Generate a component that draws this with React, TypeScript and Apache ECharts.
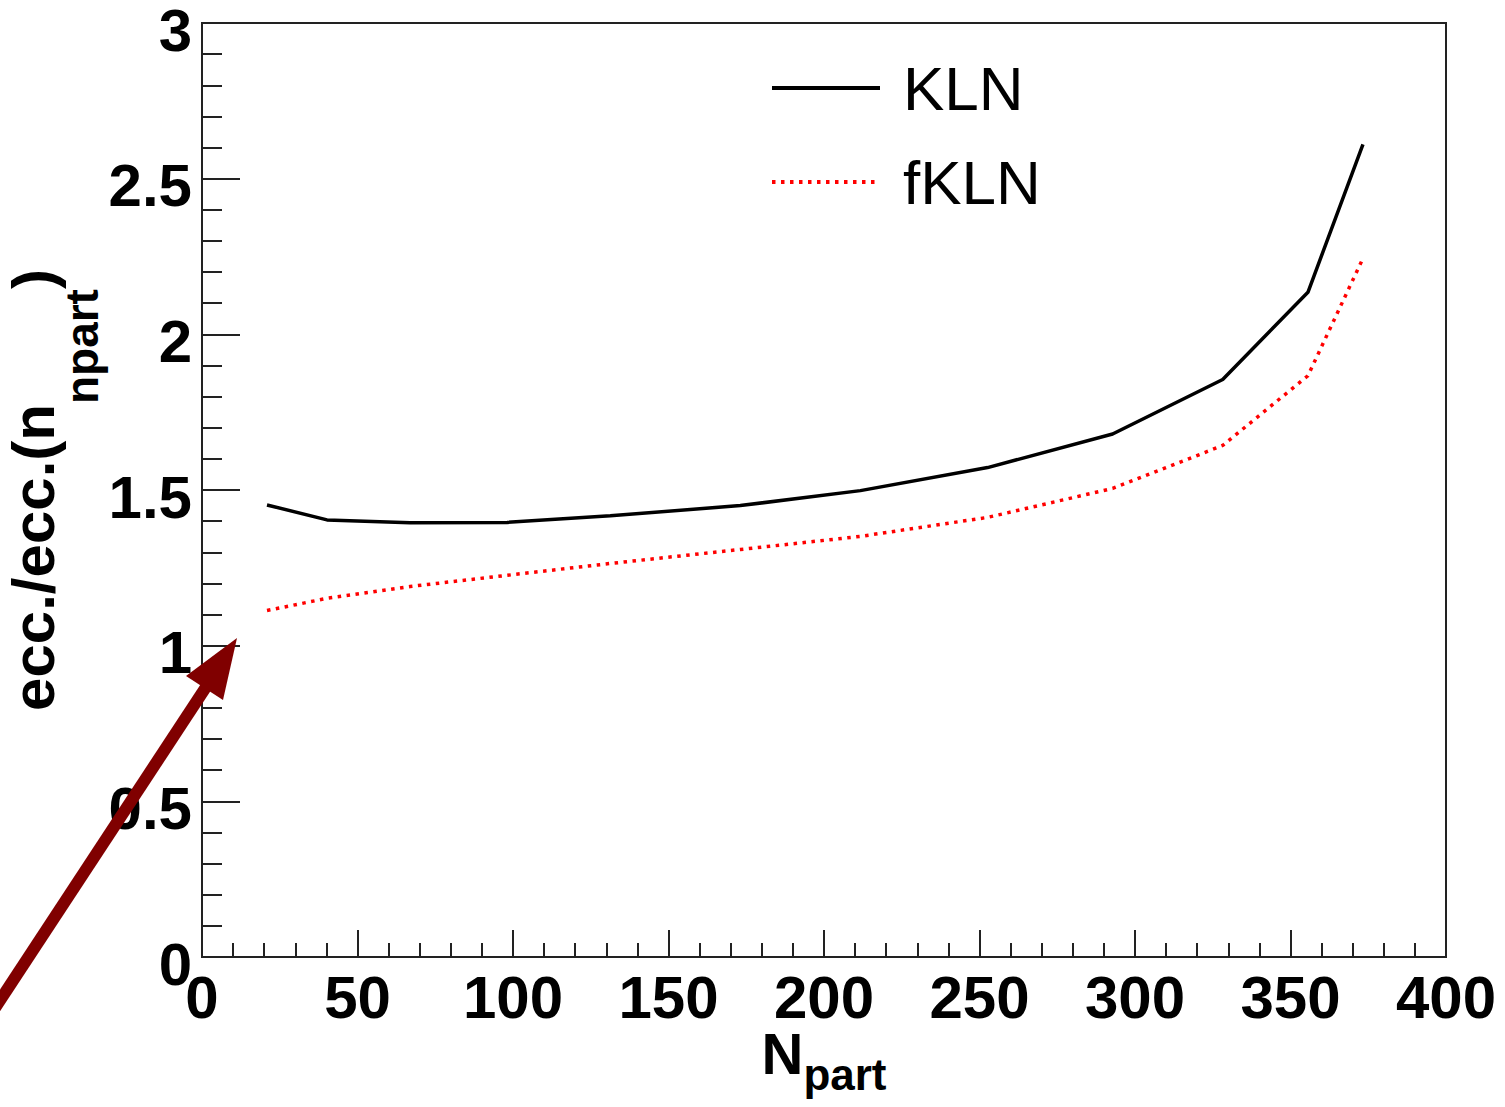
import React, { useEffect, useRef } from "react";
import * as echarts from "echarts";

const npart = [20.9, 40.2, 66.9, 98.1, 131.3, 173.1, 211.7, 252.6, 292.8, 328.2, 355.6, 373.3];
const klnValues = [1.452, 1.404, 1.395, 1.396, 1.417, 1.45, 1.498, 1.572, 1.68, 1.855, 2.135, 2.61];
const fklnValues = [1.113, 1.152, 1.19, 1.226, 1.264, 1.309, 1.351, 1.412, 1.505, 1.643, 1.867, 2.244];
const seriesNames = ["KLN", "fKLN"];

const FONT = "'Liberation Sans', Arial, Helvetica, sans-serif";

export default function App() {
  const ref = useRef<HTMLDivElement>(null);
  useEffect(() => {
    if (!ref.current) return;
    const chart = echarts.init(ref.current, null, { renderer: "svg" });
    const kln = npart.map((x, i) => [x, klnValues[i]]);
    const fkln = npart.map((x, i) => [x, fklnValues[i]]);
    chart.setOption({
      animation: false,
      backgroundColor: "#ffffff",
      grid: {
        left: 202,
        right: 59,
        top: 23,
        bottom: 150,
        show: true,
        borderColor: "#222",
        borderWidth: 2,
        containLabel: false,
        outerBoundsMode: "none",
      },
      legend: {
        data: seriesNames,
        orient: "vertical",
        left: 765,
        top: 52,
        itemWidth: 108,
        itemHeight: 20,
        itemGap: 32,
        itemStyle: { opacity: 0 },
        lineStyle: { width: 4 },
        textStyle: {
          fontFamily: FONT,
          fontSize: 62,
          lineHeight: 62,
          color: "#000",
          padding: [0, 0, 0, 18],
        },
      },
      xAxis: {
        type: "value",
        min: 0,
        max: 400,
        interval: 50,
        name: "{m|N}{s|part}",
        nameLocation: "middle",
        nameGap: 67,
        nameMoveOverlap: false,
        nameTextStyle: {
          rich: {
            m: { fontFamily: FONT, fontWeight: "bold", fontSize: 58, lineHeight: 58, verticalAlign: "top", color: "#000" },
            s: { fontFamily: FONT, fontWeight: "bold", fontSize: 44, lineHeight: 100, verticalAlign: "middle", color: "#000" },
          },
        },
        axisLine: { show: true, lineStyle: { color: "#222", width: 2 } },
        axisTick: { show: true, inside: true, length: 27, lineStyle: { color: "#222", width: 2 } },
        minorTick: { show: true, splitNumber: 5, length: 14, lineStyle: { color: "#222", width: 2 } },
        splitLine: { show: false },
        axisLabel: {
          fontFamily: FONT,
          fontWeight: "bold",
          fontSize: 60,
          color: "#000",
          margin: 10,
        },
      },
      yAxis: {
        type: "value",
        min: 0,
        max: 3,
        interval: 0.5,
        name: "{m|ecc./ecc.(n}{s|npart}{m|)}",
        nameLocation: "middle",
        nameGap: 41,
        nameMoveOverlap: false,
        nameTextStyle: {
          rich: {
            m: { fontFamily: FONT, fontWeight: "bold", fontSize: 60, lineHeight: 60, verticalAlign: "top", color: "#000" },
            s: { fontFamily: FONT, fontWeight: "bold", fontSize: 46, lineHeight: 158, verticalAlign: "middle", color: "#000" },
          },
        },
        axisLine: { show: true, lineStyle: { color: "#222", width: 2 } },
        axisTick: { show: true, inside: true, length: 38, lineStyle: { color: "#222", width: 2 } },
        minorTick: { show: true, splitNumber: 5, length: 20, lineStyle: { color: "#222", width: 2 } },
        splitLine: { show: false },
        axisLabel: {
          margin: 10,
          formatter: (v: number) => `{v|${v}}`,
          rich: {
            v: {
              fontFamily: FONT,
              fontWeight: "bold",
              fontSize: 60,
              color: "#000",
              padding: [14, 0, 0, 0],
            },
          },
        },
      },
      series: [
        {
          name: seriesNames[0],
          type: "line",
          data: kln,
          symbol: "none",
          symbolSize: 0,
          showSymbol: false,
          lineStyle: { color: "#000", width: 3.5, type: "solid" },
          itemStyle: { color: "#000" },
        },
        {
          name: seriesNames[1],
          type: "line",
          data: fkln,
          symbol: "none",
          symbolSize: 0,
          showSymbol: false,
          lineStyle: { color: "#ff0000", width: 3.5, type: [3.5, 5.5] },
          itemStyle: { color: "#ff0000" },
        },
      ],
      graphic: [
        {
          type: "line",
          z: 100,
          shape: { x1: -5, y1: 1008, x2: 206, y2: 687 },
          style: { stroke: "#800000", lineWidth: 12 },
        },
        {
          type: "polygon",
          z: 100,
          shape: { points: [[237, 638], [186, 676], [223, 700]] },
          style: { fill: "#800000" },
        },
      ],
    });
    return () => chart.dispose();
  }, []);
  return (
    <div
      ref={ref}
      style={{ width: 1505, height: 1107, position: "absolute", left: 0, top: 0 }}
    />
  );
}
